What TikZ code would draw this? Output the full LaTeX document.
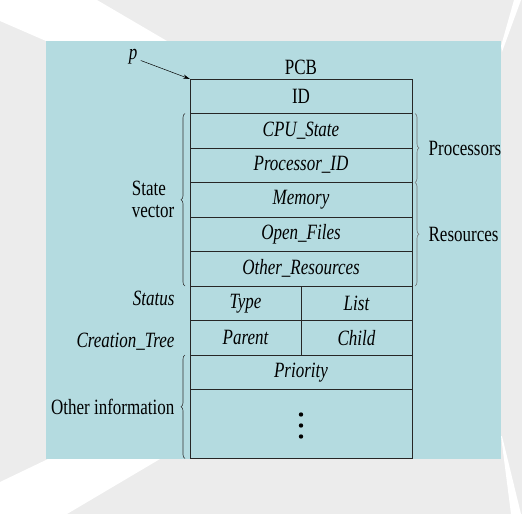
\documentclass[tikz,border=0pt]{standalone}
\usepackage{fontspec}
\setmainfont[FakeStretch=0.78]{Liberation Serif}
\usetikzlibrary{positioning, decorations.pathreplacing, calc, arrows.meta}
\definecolor{pagegray}{RGB}{236,236,236}
\definecolor{pcbblue}{RGB}{180,219,224}

\begin{document}
\begin{tikzpicture}[x=1pt, y=1pt, font=\fontsize{21.8}{22}\selectfont,
        cell/.style={draw=black!85, line width=0.9pt, minimum width=222pt, minimum height=34.5pt, inner sep=0pt, outer sep=0pt},
        field/.style={cell, font=\fontsize{21.8}{22}\selectfont\itshape},
        halffield/.style={field, minimum width=111pt},
        lbrace/.style={decorate, decoration={brace, amplitude=4pt}, draw=black!80, line width=0.6pt},
        rbrace/.style={lbrace, draw=black!55}]
                \fill[pagegray] (0,0) rectangle (522,-514);
                \fill[white] (0,0) -- (97,0) -- (167,-41) -- (46,-41) -- (0,-21) -- cycle;
                \fill[white] (0,-482) -- (48,-459) -- (160,-459) -- (67,-514) -- (0,-514) -- cycle;
                \fill[white] (514,0) -- (521,0) -- (502,-52) -- (501,-46) -- cycle;
                \fill[white] (501,-436) -- (502,-436) -- (521,-514) -- (511,-514) -- cycle;
                \fill[pcbblue] (46,-41) rectangle (501,-459);

                \node[cell] (id) at (301,-96.25) {ID};
                \node (pcb) at (301,-67.5) {PCB};
                \node[field, below=0pt of id] (cpu) {CPU\_State};
                \node[field, below=0pt of cpu] (procid) {Processor\_ID};
                \node[field, below=0pt of procid] (memory) {Memory};
                \node[field, below=0pt of memory] (files) {Open\_Files};
                \node[field, below=0pt of files] (otherres) {Other\_Resources};
                \node[halffield, anchor=north west] (type) at (otherres.south west) {Type};
                \node[halffield, right=0pt of type] (list) {List};
                \node[halffield, below=0pt of type] (parent) {Parent};
                \node[halffield, right=0pt of parent] (child) {Child};
                \node[field, anchor=north west] (priority) at (parent.south west) {Priority};
                \node[cell, minimum height=69pt, below=0pt of priority] (dots) {};
                \foreach \dy in {9.5,-1.5,-12.5}
                    \fill (dots.center) ++(0,\dy) circle (2.2);

                \node[font=\fontsize{21.8}{22}\selectfont\itshape] (p) at (133,-56.5) {p};
                \draw[line width=0.5pt, -{Stealth[length=7pt, width=4pt]}] ([yshift=-4pt]p.east) -- (id.north west);

                \draw[lbrace] ([xshift=-5pt]otherres.south west) -- ([xshift=-5pt]cpu.north west)
                    node[midway, left=7pt, align=left] (statevec) {State\\vector};
                \draw[lbrace] ([xshift=-5pt]dots.south west) -- ([xshift=-5pt]priority.north west)
                    node[midway, left=7pt] (otherinfo) {Other information};
                \draw[rbrace] ([xshift=3pt]cpu.north east) -- ([xshift=3pt]procid.south east)
                    node[midway, right=10pt] (processors) {Processors};
                \draw[rbrace] ([xshift=3pt]memory.north east) -- ([xshift=3pt]otherres.south east)
                    node[midway, right=10pt] (resources) {Resources};

                \node[anchor=east, font=\fontsize{21.8}{22}\selectfont\itshape] (status) at (178,-298.5) {Status};
                \node[anchor=east, font=\fontsize{21.8}{22}\selectfont\itshape] (ctree) at (178,-342) {Creation\_Tree};
\end{tikzpicture}
\end{document}
